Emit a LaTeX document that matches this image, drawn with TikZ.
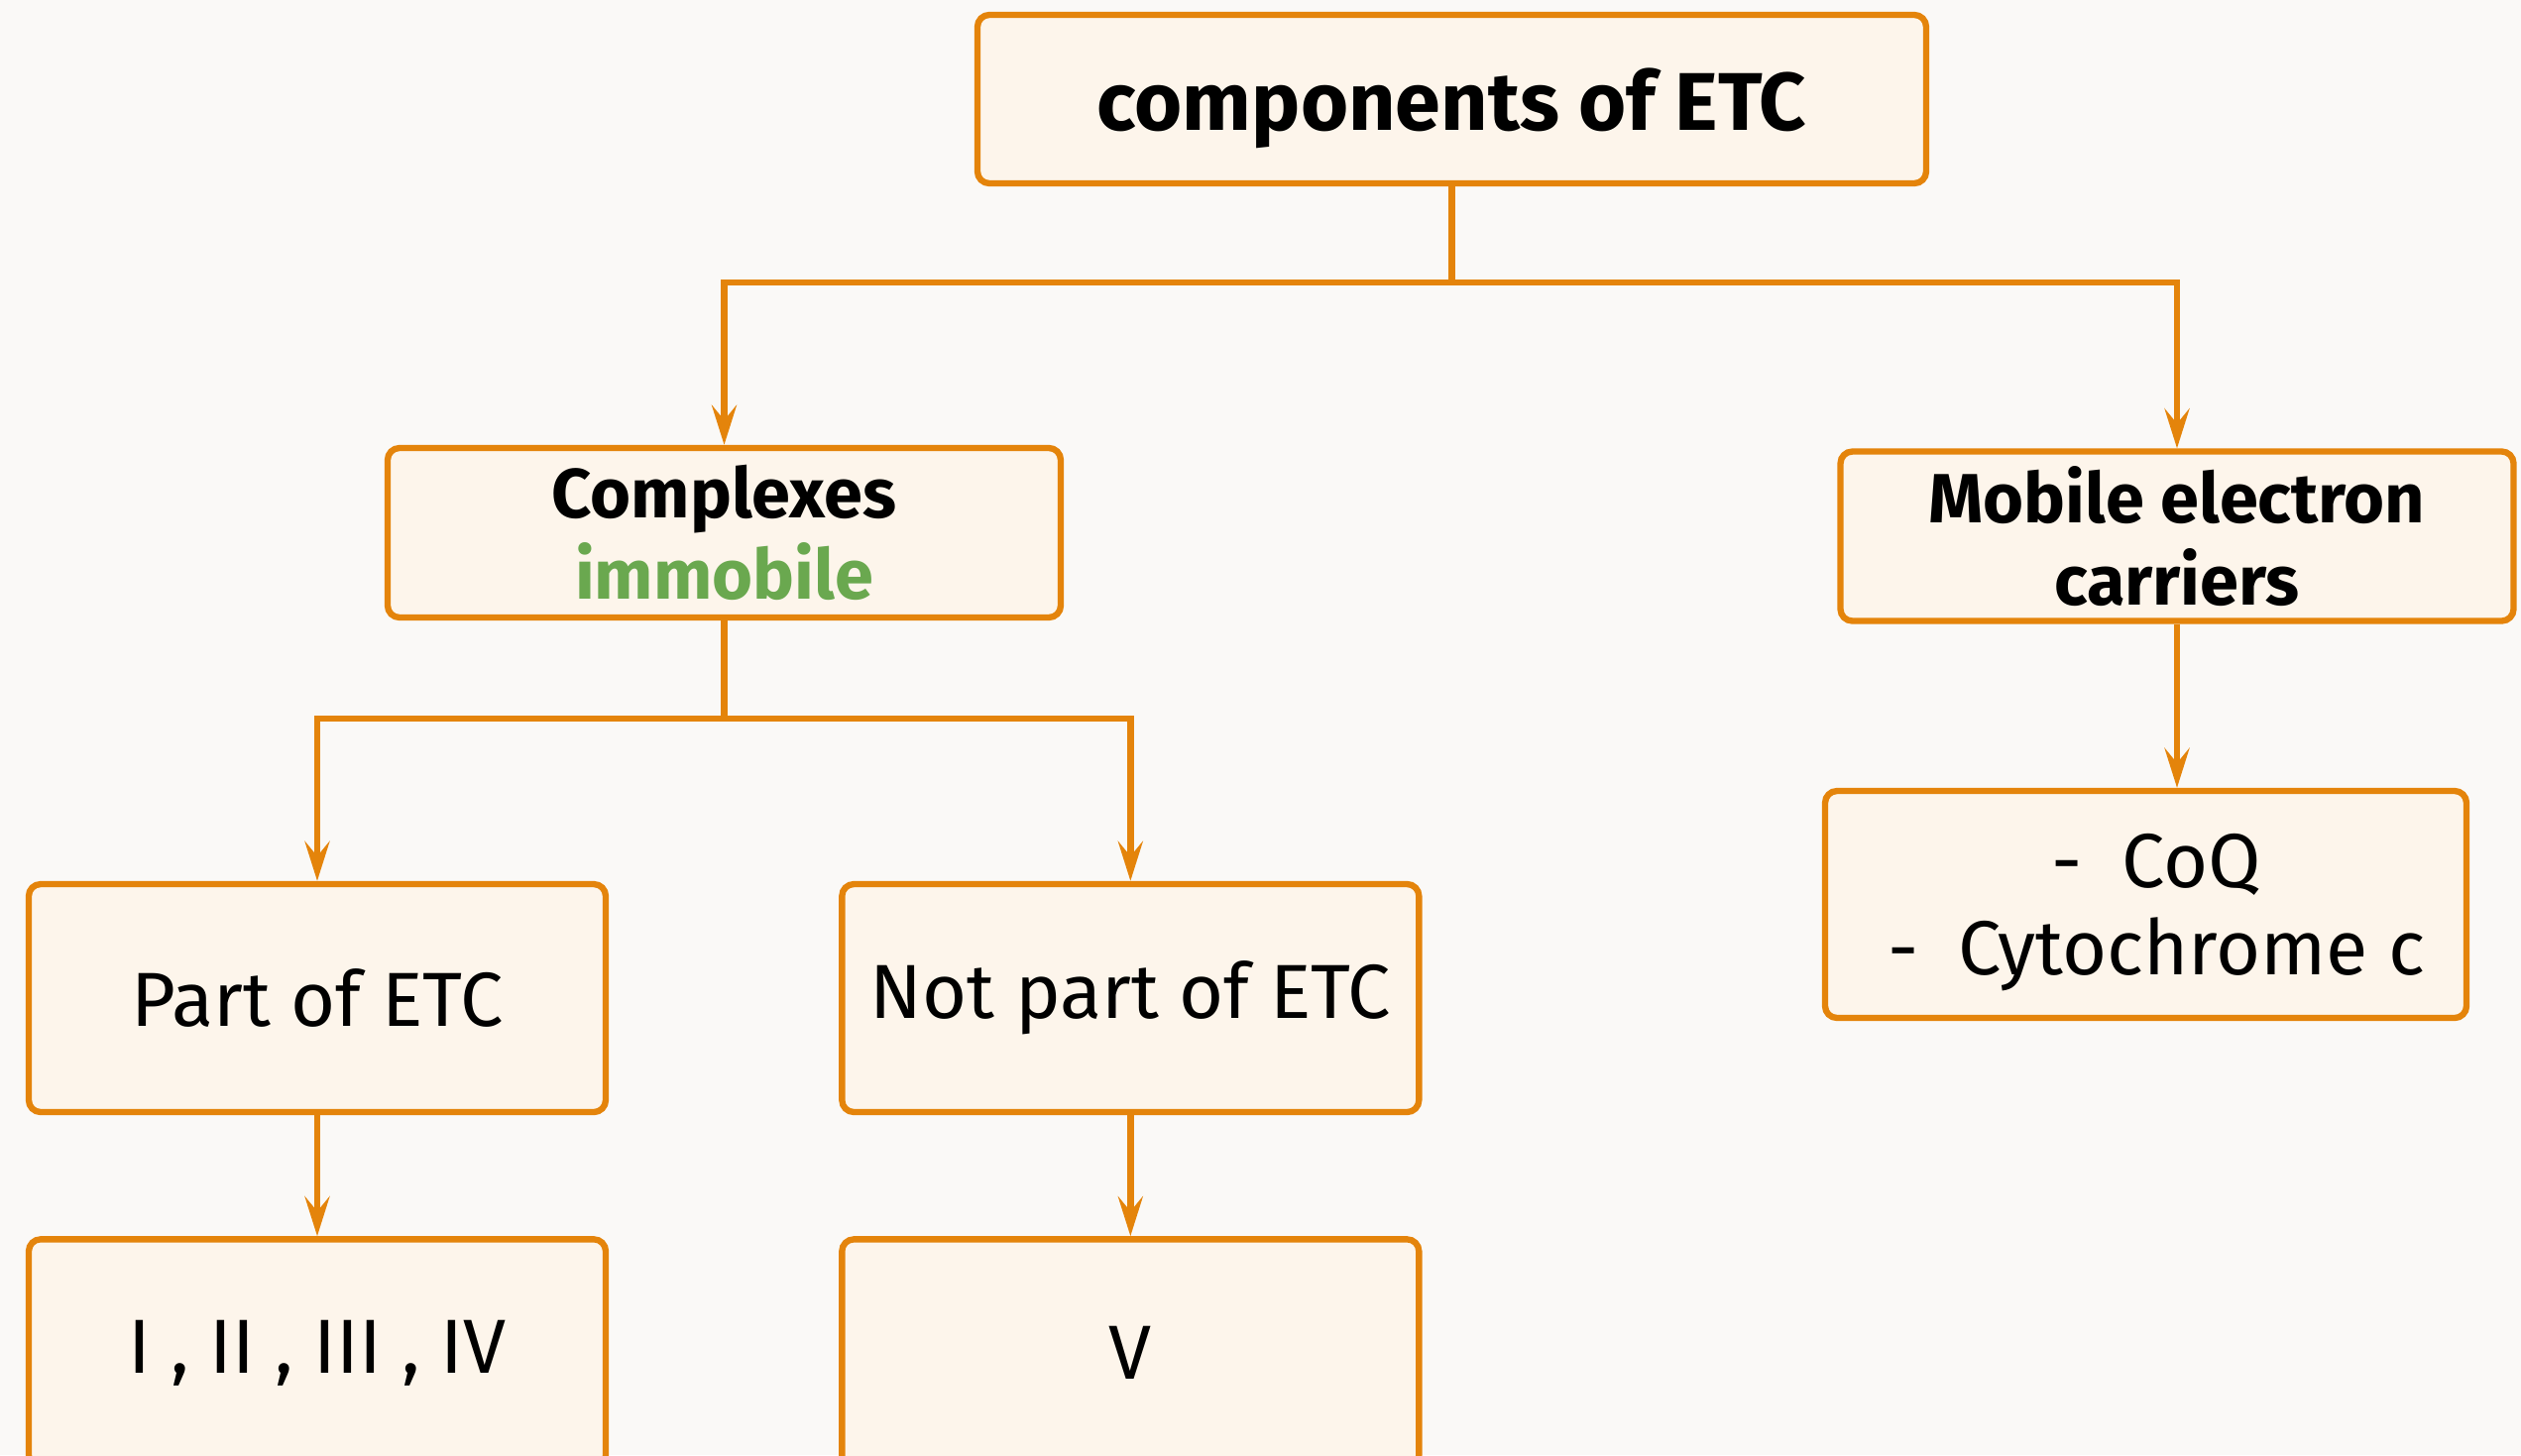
\documentclass[tikz,border=0pt]{standalone}
\usepackage{fontspec}
\setmainfont{Fira Sans}
\usepackage{xcolor}
\usetikzlibrary{positioning}
\usetikzlibrary{arrows.meta}
\definecolor{etcorange}{HTML}{E4840B}
\definecolor{etcfill}{HTML}{FDF5EB}
\definecolor{etcgreen}{HTML}{6AA84F}
\definecolor{etcpaper}{HTML}{FAF9F7}
\tikzset{>={Stealth[width=2.5mm,length=4mm,inset=1.5mm]}}

\begin{document}
\begin{tikzpicture}[box/.style={rectangle, rounded corners=1.2mm, draw=etcorange, fill=etcfill, line width=1.8pt, align=center, inner sep=0pt, font=\fontsize{22}{24}\selectfont}, titlebox/.style={box, minimum width=9.57cm, minimum height=1.70cm, text depth=0pt, font=\bfseries\fontsize{23.5}{25}\selectfont}, headbox/.style={box, minimum width=6.79cm, minimum height=1.71cm, font=\bfseries\fontsize{20}{23.5}\selectfont}, leafbox/.style={box, minimum width=5.82cm, minimum height=2.30cm}, link/.style={draw=etcorange, line width=1.8pt, ->}]

    \fill[etcpaper] (0,0) rectangle (25.43,-14.68);
    \clip (0,0) rectangle (25.43,-14.68);

    %Nodes
    \node[titlebox](top) at (14.645,-1.00){components of ETC};
    \node[headbox](complexes) at (7.305,-5.375){Complexes\\\textcolor{etcgreen}{immobile}};
    \node[headbox](mobile) at (21.96,-5.41){Mobile electron\\carriers};
    \node[leafbox](part) at (3.20,-10.07){Part of ETC};
    \node[leafbox](notpart)[right=2.32cm of part]{Not part of ETC};
    \node[leafbox](numbers)[below=1.22cm of part]{I , II , III , IV};
    \node[leafbox](five)[below=1.22cm of notpart]{V};
    \node[box, minimum width=6.47cm, minimum height=2.29cm, text depth=0pt, font=\fontsize{22}{25}\selectfont](carriers) at (21.645,-9.125){\hspace*{0.22cm}-\hspace{0.4cm}CoQ\\\hspace*{0.22cm}-\hspace{0.4cm}Cytochrome c};

    %Lines
    \draw[link] (top.south) -- ++(0,-0.97) -| (complexes.north);
    \draw[link] (top.south) -- ++(0,-0.97) -| (mobile.north);
    \draw[link] (complexes.south) -- ++(0,-0.99) -| (part.north);
    \draw[link] (complexes.south) -- ++(0,-0.99) -| (notpart.north);
    \draw[link] (part.south) -- (numbers.north);
    \draw[link] (notpart.south) -- (five.north);
    \draw[link] (mobile.south) -- (mobile.south |- carriers.north);

\end{tikzpicture}
\end{document}
